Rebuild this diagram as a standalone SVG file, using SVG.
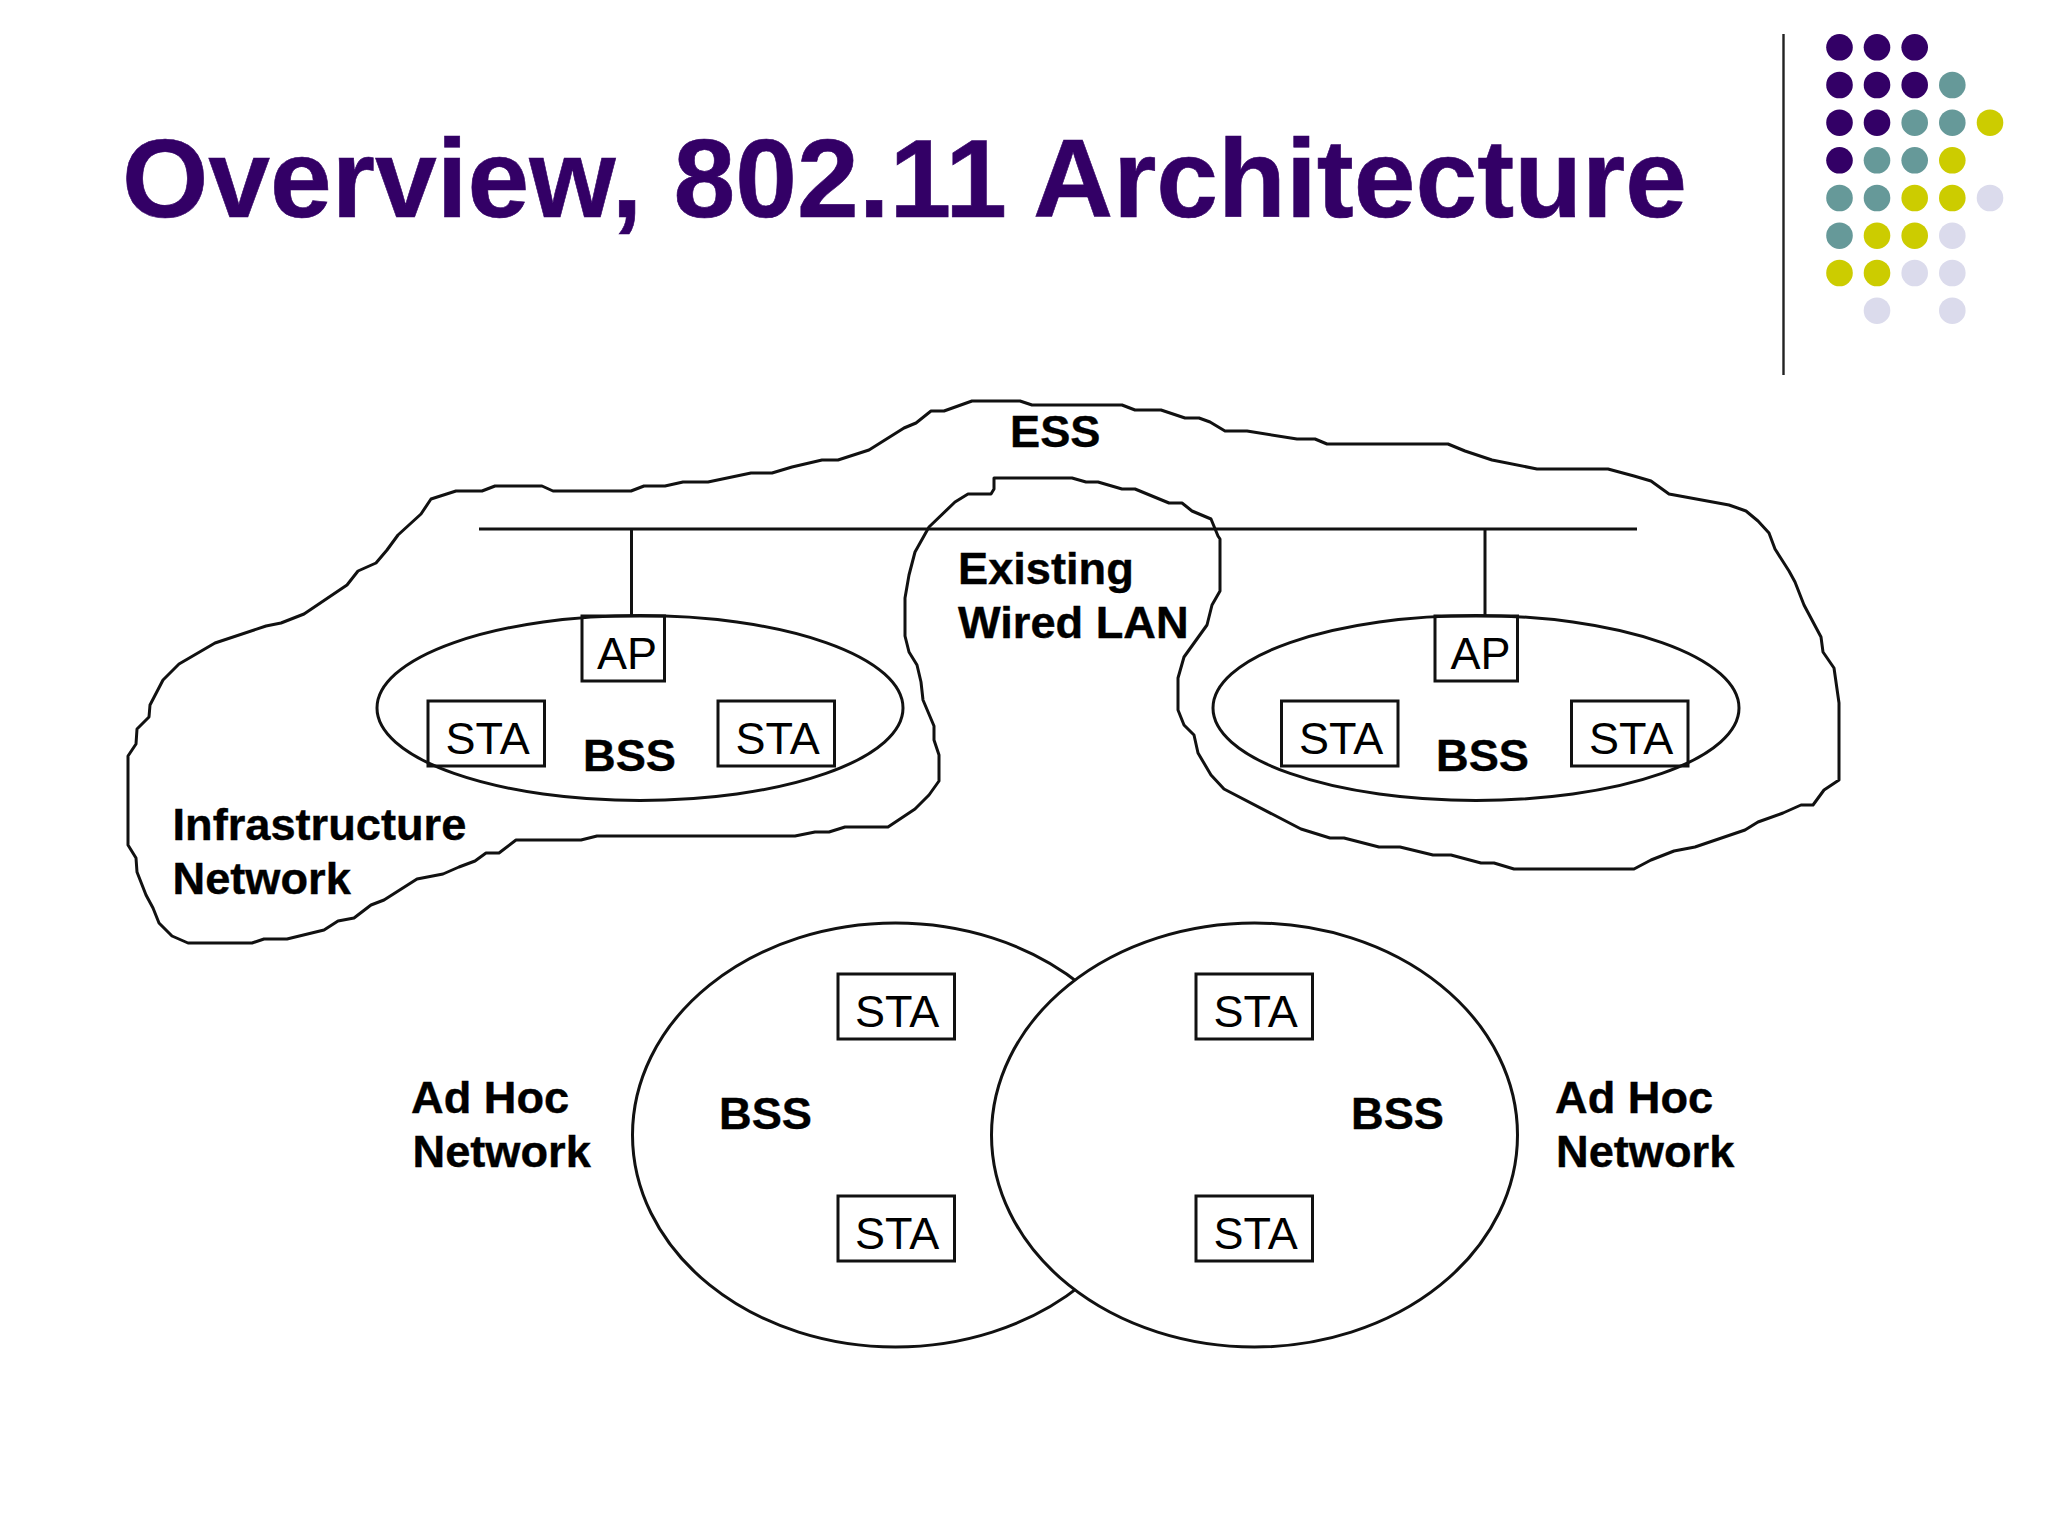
<svg xmlns="http://www.w3.org/2000/svg" width="2048" height="1536" viewBox="0 0 2048 1536">
<style>
.s{fill:none;stroke:#111;stroke-width:3;stroke-linejoin:round}
.w{fill:#fff;stroke:#111;stroke-width:3}
.b{fill:none;stroke:#111;stroke-width:3}
.t{font-family:"Liberation Sans",Arial,sans-serif;font-size:45px;fill:#000}
.tb{font-family:"Liberation Sans",Arial,sans-serif;font-size:45.2px;font-weight:700;fill:#000;stroke:#000;stroke-width:.4}
.p{fill:#330066}.g{fill:#669999}.y{fill:#CCCC00}.l{fill:#DBDBEC}
</style>
<rect width="2048" height="1536" fill="#fff"/>
<text id="title" y="217" font-family="'Liberation Sans',Arial,sans-serif" font-size="111" font-weight="700" fill="#330066" stroke="#330066" stroke-width=".6"><tspan x="122">Overview,</tspan> <tspan x="673.5">802.11</tspan> <tspan x="1033">Architecture</tspan></text>
<g id="decoration">
<line x1="1783.5" y1="34" x2="1783.5" y2="375" stroke="#222" stroke-width="2.4"/>
<g id="dots">
<circle class="p" cx="1839.5" cy="47.3" r="13.3"/><circle class="p" cx="1877" cy="47.3" r="13.3"/><circle class="p" cx="1914.7" cy="47.3" r="13.3"/>
<circle class="p" cx="1839.5" cy="85" r="13.3"/><circle class="p" cx="1877" cy="85" r="13.3"/><circle class="p" cx="1914.7" cy="85" r="13.3"/><circle class="g" cx="1952.3" cy="85" r="13.3"/>
<circle class="p" cx="1839.5" cy="122.7" r="13.3"/><circle class="p" cx="1877" cy="122.7" r="13.3"/><circle class="g" cx="1914.7" cy="122.7" r="13.3"/><circle class="g" cx="1952.3" cy="122.7" r="13.3"/><circle class="y" cx="1990" cy="122.7" r="13.3"/>
<circle class="p" cx="1839.5" cy="160.3" r="13.3"/><circle class="g" cx="1877" cy="160.3" r="13.3"/><circle class="g" cx="1914.7" cy="160.3" r="13.3"/><circle class="y" cx="1952.3" cy="160.3" r="13.3"/>
<circle class="g" cx="1839.5" cy="198" r="13.3"/><circle class="g" cx="1877" cy="198" r="13.3"/><circle class="y" cx="1914.7" cy="198" r="13.3"/><circle class="y" cx="1952.3" cy="198" r="13.3"/><circle class="l" cx="1990" cy="198" r="13.3"/>
<circle class="g" cx="1839.5" cy="235.7" r="13.3"/><circle class="y" cx="1877" cy="235.7" r="13.3"/><circle class="y" cx="1914.7" cy="235.7" r="13.3"/><circle class="l" cx="1952.3" cy="235.7" r="13.3"/>
<circle class="y" cx="1839.5" cy="273" r="13.3"/><circle class="y" cx="1877" cy="273" r="13.3"/><circle class="l" cx="1914.7" cy="273" r="13.3"/><circle class="l" cx="1952.3" cy="273" r="13.3"/>
<circle class="l" cx="1877" cy="310.7" r="13.3"/><circle class="l" cx="1952.3" cy="310.7" r="13.3"/>
</g></g>
<g id="ess-cloud">
<path class="s" d="M972,401 944,411 931,411 916,423 904,428 869,450 838,460 822,460 792,467 772,473 751,473 708,482 683,482 665,486 644,486 631,491 553,491 542,486 495,486 482,491 456,491 431,499 421,514 398,535 387,550 376,563 358,571 347,585 304,614 281,623 266,626 215,643 179,664 163,680 150,705 149,717 137,729 136,744 128,756 128,845 136,858 137,872 146,895 153,908 159,923 172,936 188,943 252,943 264,939 287,939 324,930 338,921 354,918 371,905 384,900 417,879 443,874 459,867 475,861 486,853 499,853 516,840 581,840 597,836 795,836 815,832 829,832 845,827 888,827 915,809 929,795 939,781 939,755 934,740 934,726 923,700 921,682 917,665 909,652 905,636 905,598 909,575 915,552 929,527 955,502 968,494 991,494 994,489 994,478 1072,478 1086,482 1098,482 1122,489 1135,489 1169,503 1182,503 1192,511 1211,519 1218,536 1220,539 1220,591 1212,605 1207,625 1184,657 1178,678 1178,710 1184,725 1194,735 1198,753 1211,775 1224,789 1301,829 1330,838 1344,838 1379,847 1400,847 1433,855 1451,855 1481,863 1494,863 1514,869 1634,869 1651,860 1674,851 1695,847 1745,830 1758,822 1783,813 1801,805 1813,805 1824,790 1839,780 1839,703 1834,668 1823,652 1821,637 1804,605 1795,582 1789,571 1775,549 1769,533 1758,521 1746,511 1729,505 1669,494 1651,481 1634,476 1608,469 1537,469 1492,460 1465,451 1448,444 1327,444 1315,439 1297,439 1247,431 1225,431 1210,422 1199,418 1185,418 1161,410 1135,410 1122,405 1032,405 1020,401Z"/>
<text class="tb" x="1010" y="447">ESS</text>
<text class="tb" x="958" y="584">Existing</text>
<text class="tb" x="958" y="638">Wired LAN</text>
<text class="tb" x="172.5" y="840">Infrastructure</text>
<text class="tb" x="172.5" y="894">Network</text>
</g>
<g id="connectors">
<line class="b" x1="479" y1="529" x2="1637" y2="529"/>
<line class="b" x1="631.5" y1="529" x2="631.5" y2="616"/>
<line class="b" x1="1485" y1="529" x2="1485" y2="616"/>
</g>
<g id="bss-left">
<ellipse class="b" cx="640" cy="708" rx="263" ry="92.5"/>
<text class="tb" x="583" y="771">BSS</text>
</g>
<g id="ap-left"><rect class="b" x="582" y="616" width="82.5" height="65"/><text class="t" x="597" y="669">AP</text></g>
<g id="sta-l1"><rect class="b" x="428" y="701" width="116.5" height="65"/><text class="t" x="445.5" y="754">STA</text></g>
<g id="sta-l2"><rect class="b" x="718" y="701" width="116.5" height="65"/><text class="t" x="735.5" y="754">STA</text></g>
<g id="bss-right">
<ellipse class="b" cx="1476" cy="708" rx="263" ry="92.5"/>
<text class="tb" x="1436" y="771">BSS</text>
</g>
<g id="ap-right"><rect class="b" x="1435" y="616" width="82.5" height="65"/><text class="t" x="1450.5" y="669">AP</text></g>
<g id="sta-r1"><rect class="b" x="1281.5" y="701" width="116.5" height="65"/><text class="t" x="1299" y="754">STA</text></g>
<g id="sta-r2"><rect class="b" x="1571.5" y="701" width="116.5" height="65"/><text class="t" x="1589" y="754">STA</text></g>
<g id="adhoc-left">
<ellipse class="w" cx="895.5" cy="1135" rx="263" ry="212"/>
<text class="tb" x="411" y="1113">Ad Hoc</text>
<text class="tb" x="412.5" y="1167">Network</text>
<text class="tb" x="719" y="1129">BSS</text>
</g>
<g id="adhoc-right">
<ellipse class="w" cx="1254.5" cy="1135" rx="263" ry="212"/>
<text class="tb" x="1555" y="1113">Ad Hoc</text>
<text class="tb" x="1556" y="1167">Network</text>
<text class="tb" x="1351" y="1129">BSS</text>
</g>
<g id="sta-a1"><rect class="b" x="838" y="974" width="116.5" height="65"/><text class="t" x="855" y="1027">STA</text></g>
<g id="sta-a2"><rect class="b" x="838" y="1196" width="116.5" height="65"/><text class="t" x="855" y="1249">STA</text></g>
<g id="sta-a3"><rect class="b" x="1196" y="974" width="116.5" height="65"/><text class="t" x="1213.5" y="1027">STA</text></g>
<g id="sta-a4"><rect class="b" x="1196" y="1196" width="116.5" height="65"/><text class="t" x="1213.5" y="1249">STA</text></g>
</svg>
